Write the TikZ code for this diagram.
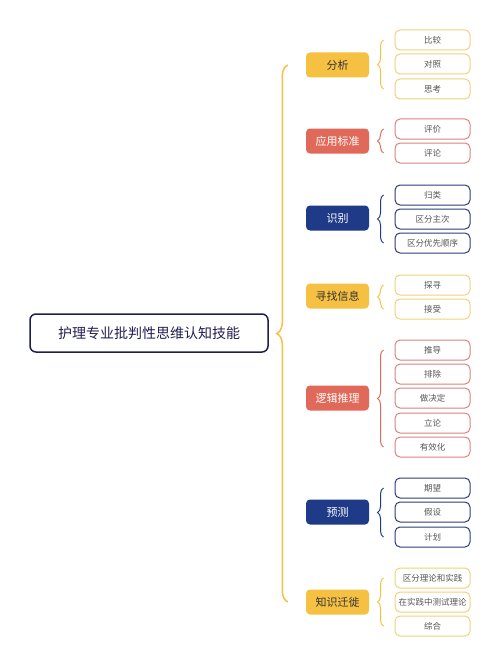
\documentclass[tikz,border=0pt]{standalone}
\usepackage{fontspec}
\setmainfont{Noto Sans CJK SC}
\usetikzlibrary{decorations.pathreplacing}

\definecolor{mapyellow}{HTML}{F6C143}
\definecolor{mapred}{HTML}{E1695A}
\definecolor{mapnavy}{HTML}{1F3A87}
\definecolor{yelline}{HTML}{F2D17C}
\definecolor{redline}{HTML}{D9847E}
\definecolor{navyline}{HTML}{2B3C78}
\definecolor{rootline}{HTML}{1E1E50}
\definecolor{leaftext}{HTML}{555555}

\tikzset{
  cat/.style={rounded corners=4pt, minimum width=63pt, minimum height=25pt,
    inner sep=0pt, font=\fontsize{11}{13}\selectfont},
  leaf/.style={draw, fill=white, rounded corners=5pt, minimum width=75pt,
    minimum height=20pt, line width=1pt, inner sep=0pt, text=leaftext,
    font=\fontsize{8.5}{10}\selectfont},
  brace/.style={decorate, decoration={brace,amplitude=6pt}, line width=1pt},
}

\begin{document}
\begin{tikzpicture}[x=1pt,y=-1pt]
  \useasboundingbox[fill=white] (0,0) rectangle (500,666);

  % root
  \node[draw=rootline, line width=1.5pt, rounded corners=6pt, fill=white,
    minimum width=238pt, minimum height=38pt, inner sep=0pt, text=rootline,
    font=\fontsize{14}{16}\selectfont] (root) at (149,333) {护理专业批判性思维认知技能};

  % categories
  \node[cat,fill=mapyellow,text=black!80] (fenxi)  at (337.5,65)  {分析};
  \node[cat,fill=mapred,text=white]       (yingyong) at (337.5,141) {应用标准};
  \node[cat,fill=mapnavy,text=white]      (shibie) at (337.5,218) {识别};
  \node[cat,fill=mapyellow,text=black!80] (xunzhao) at (337.5,296) {寻找信息};
  \node[cat,fill=mapred,text=white]       (luoji)  at (337.5,398) {逻辑推理};
  \node[cat,fill=mapnavy,text=white]      (yuce)   at (337.5,512) {预测};
  \node[cat,fill=mapyellow,text=black!80] (zhishi) at (337.5,602) {知识迁徙};

  \draw[brace,draw=mapyellow,line width=1.5pt,decoration={amplitude=11pt}]
    ([xshift=-18pt]zhishi.west) -- ([xshift=-18pt]fenxi.west);

  % leaves
  \node[leaf,draw=yelline] (bijiao) at (432.5,40) {比较};
  \node[leaf,draw=yelline] (duizhao) at (432.5,64) {对照};
  \node[leaf,draw=yelline] (sikao) at (432.5,89) {思考};
  \draw[brace,draw=mapyellow] ([xshift=-11pt]sikao.west) -- ([xshift=-11pt]bijiao.west);

  \node[leaf,draw=redline] (pingjia) at (432.5,129) {评价};
  \node[leaf,draw=redline] (pinglun) at (432.5,153) {评论};
  \draw[brace,draw=mapred] ([xshift=-11pt]pinglun.west) -- ([xshift=-11pt]pingjia.west);

  \node[leaf,draw=navyline] (guilei) at (432.5,195) {归类};
  \node[leaf,draw=navyline] (zhuci) at (432.5,219) {区分主次};
  \node[leaf,draw=navyline] (youxian) at (432.5,243) {区分优先顺序};
  \draw[brace,draw=mapnavy] ([xshift=-11pt]youxian.west) -- ([xshift=-11pt]guilei.west);

  \node[leaf,draw=yelline] (tanxun) at (432.5,285) {探寻};
  \node[leaf,draw=yelline] (jieshou) at (432.5,309) {接受};
  \draw[brace,draw=mapyellow] ([xshift=-11pt]jieshou.west) -- ([xshift=-11pt]tanxun.west);

  \node[leaf,draw=redline] (tuidao) at (432.5,350) {推导};
  \node[leaf,draw=redline] (paichu) at (432.5,374) {排除};
  \node[leaf,draw=redline] (juedi) at (432.5,398) {做决定};
  \node[leaf,draw=redline] (lilun) at (432.5,423) {立论};
  \node[leaf,draw=redline] (youxiao) at (432.5,447) {有效化};
  \draw[brace,draw=mapred] ([xshift=-11pt]youxiao.west) -- ([xshift=-11pt]tuidao.west);

  \node[leaf,draw=navyline] (qiwang) at (432.5,488) {期望};
  \node[leaf,draw=navyline] (jiashe) at (432.5,512) {假设};
  \node[leaf,draw=navyline] (jihua) at (432.5,537) {计划};
  \draw[brace,draw=mapnavy] ([xshift=-11pt]jihua.west) -- ([xshift=-11pt]qiwang.west);

  \node[leaf,draw=yelline] (qufen) at (432.5,578) {区分理论和实践};
  \node[leaf,draw=yelline] (ceshi) at (432.5,602) {在实践中测试理论};
  \node[leaf,draw=yelline] (zonghe) at (432.5,626) {综合};
  \draw[brace,draw=mapyellow] ([xshift=-11pt]zonghe.west) -- ([xshift=-11pt]qufen.west);
\end{tikzpicture}
\end{document}
